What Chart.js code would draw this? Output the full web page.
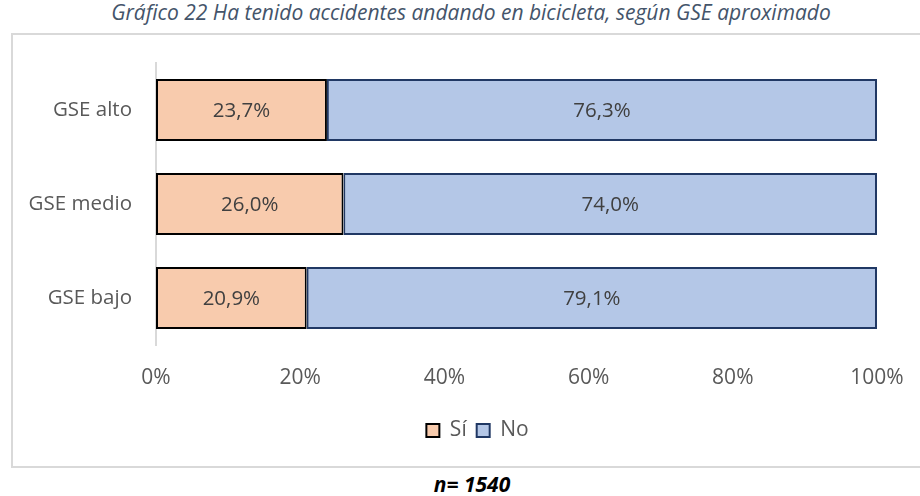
<!DOCTYPE html>
<html>
<head>
<meta charset="utf-8">
<script src="https://cdn.jsdelivr.net/npm/chart.js@4"></script>
<style>
  html, body { margin: 0; padding: 0; background: #fff; }
  body { width: 920px; height: 496px; position: relative; overflow: hidden; font-family: "Open Sans", sans-serif; }
  #title { position: absolute; left: 0; top: -2px; width: 942px; text-align: center; font-style: italic; font-size: 21px; color: #44546a; white-space: nowrap; }
  #box { position: absolute; left: 11px; top: 33px; width: 920px; height: 435px; border: 2px solid #d9d9d9; box-sizing: border-box; }
  #note { position: absolute; left: 0; top: 470px; width: 944px; text-align: center; font-style: italic; font-weight: bold; font-size: 21px; color: #000; line-height: 29px; }
  #wrap { position: absolute; left: 0; top: 0; width: 920px; height: 496px; }
</style>
</head>
<body>
<div id="title">Gráfico 22 Ha tenido accidentes andando en bicicleta, según GSE aproximado</div>
<div id="box"></div>
<div id="note">n= 1540</div>
<div id="wrap"><canvas id="c" width="920" height="496"></canvas></div>
<script>
const categories = ["GSE alto", "GSE medio", "GSE bajo"];
const seriesNames = ["Sí", "No"];
const siValues = [23.7, 26.0, 20.9];
const noValues = [76.3, 74.0, 79.1];
const xTicks = [0, 20, 40, 60, 80, 100];

const FONT = '"Open Sans", sans-serif';

const valueLabels = {
  id: 'valueLabels',
  afterDatasetsDraw(chart) {
    const ctx = chart.ctx;
    ctx.save();
    ctx.font = '20.5px ' + FONT;
    ctx.fillStyle = '#404040';
    ctx.textAlign = 'center';
    ctx.textBaseline = 'middle';
    chart.data.datasets.forEach((ds, di) => {
      chart.getDatasetMeta(di).data.forEach((bar, i) => {
        const v = ds.data[i];
        const cx = (bar.x + bar.base) / 2;
        ctx.fillText(v.toFixed(1).replace('.', ',') + '%', cx, bar.y + 1);
      });
    });
    ctx.restore();
  }
};

const legendShift = {
  id: 'legendShift',
  afterLayout(chart) {
    const lg = chart.legend;
    if (!lg) return;
    lg.left += 39;
    lg.right += 39;
    if (lg.adjustHitBoxes) lg.adjustHitBoxes();
  }
};

new Chart(document.getElementById('c'), {
  type: 'bar',
  data: {
    labels: categories,
    datasets: [
      { label: seriesNames[0], data: siValues, backgroundColor: '#f8cbad', borderColor: '#000000', borderWidth: 2, borderSkipped: false },
      { label: seriesNames[1], data: noValues, backgroundColor: '#b4c7e7', borderColor: '#203864', borderWidth: 2, borderSkipped: false }
    ]
  },
  options: {
    indexAxis: 'y',
    responsive: false,
    animation: false,
    layout: { padding: { top: 63, right: 43, bottom: 45, left: 0 } },
    datasets: { bar: { categoryPercentage: 1, barPercentage: 0.66 } },
    scales: {
      x: {
        stacked: true, min: 0, max: 100,
        afterBuildTicks(scale) { scale.ticks = xTicks.map(v => ({ value: v })); },
        afterFit(scale) { scale.height = 65; scale.paddingRight = 0; scale.paddingLeft = 0; },
        grid: { display: false, drawTicks: false },
        border: { display: false },
        ticks: { padding: 20, color: '#595959', font: { family: '"Open Sans"', size: 21 }, callback: v => v + '%' }
      },
      y: {
        stacked: true,
        afterFit(scale) { scale.width = 156; },
        grid: { display: false, drawTicks: false },
        border: { display: true, color: '#d9d9d9', width: 2 },
        ticks: { padding: 24, color: '#595959', font: { family: '"Open Sans"', size: 20.5 } }
      }
    },
    plugins: {
      legend: {
        position: 'bottom',
        labels: { boxWidth: 13, boxHeight: 13, padding: 10, color: '#595959', font: { family: '"Open Sans"', size: 21 } }
      },
      tooltip: { enabled: false }
    }
  },
  plugins: [valueLabels, legendShift]
});
</script>
</body>
</html>
